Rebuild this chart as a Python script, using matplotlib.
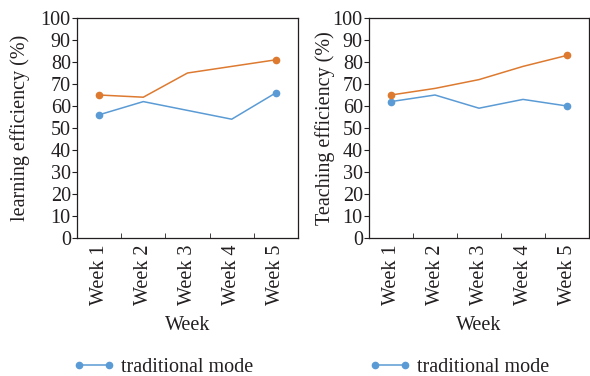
#!/usr/bin/env python
"""
Learning and teaching efficiency over five weeks
"""

import matplotlib.pyplot as plt
from matplotlib.ticker import FixedLocator

weeks = ["Week 1", "Week 2", "Week 3", "Week 4", "Week 5"]
learning_traditional = [56, 62, 58, 54, 66]
learning_new = [65, 64, 75, 78, 81]
teaching_traditional = [62, 65, 59, 63, 60]
teaching_new = [65, 68, 72, 78, 83]

BLUE = "#5b9bd5"
ORANGE = "#dd7a30"
TEXT = "#231f20"
FS = 14.5


def draw_panel(ax, traditional, new, ylabel, ylabelpad, legend_x):
    """
    One panel with both series
    """
    x = list(range(1, len(weeks) + 1))
    ax.plot(x, traditional, color=BLUE, lw=1.1, marker="o", ms=4.5,
            markevery=[0, -1], label="traditional mode")
    ax.plot(x, new, color=ORANGE, lw=1.1, marker="o", ms=4.5,
            markevery=[0, -1])
    ax.set_xlim(0.5, len(weeks) + 0.5)
    ax.set_ylim(0, 100)
    ax.set_yticks(range(0, 101, 10))
    ax.set_xticks(x)
    ax.set_xticklabels(weeks, rotation=90)
    ax.xaxis.set_minor_locator(FixedLocator([i + 0.5 for i in range(1, len(weeks))]))
    ax.tick_params(axis="x", which="major", length=0, pad=5)
    ax.tick_params(axis="x", which="minor", direction="in", length=3.5, color=TEXT)
    ax.tick_params(axis="y", direction="out", length=3.5, color=TEXT, pad=1)
    ax.tick_params(labelsize=FS, labelcolor=TEXT)
    for spine in ax.spines.values():
        spine.set_color(TEXT)
        spine.set_linewidth(0.9)
    ax.set_ylabel(ylabel, fontsize=FS, color=TEXT, labelpad=ylabelpad)
    ax.set_xlabel("Week", fontsize=FS, color=TEXT, labelpad=7.5)
    ax.legend(loc="center", bbox_to_anchor=(legend_x, -0.59), frameon=False,
              numpoints=2, handlelength=2.1, handletextpad=0.3, fontsize=FS,
              labelcolor=TEXT, borderaxespad=0, borderpad=0)


def main():
    """
    Driver code
    """
    plt.rcParams["font.family"] = ["Liberation Serif", "DejaVu Serif"]
    fig = plt.figure(figsize=(5.9, 3.76), dpi=100)
    ax1 = fig.add_axes([77 / 590, 138 / 376, 221 / 590, 220 / 376])
    ax2 = fig.add_axes([369 / 590, 138 / 376, 220 / 590, 220 / 376])
    draw_panel(ax1, learning_traditional, learning_new,
               "learning efficiency (%)", 8, 0.39)
    draw_panel(ax2, teaching_traditional, teaching_new,
               "Teaching efficiency (%)", -2, 0.41)
    fig.savefig("out.png", dpi=100)


if __name__ == "__main__":
    main()
